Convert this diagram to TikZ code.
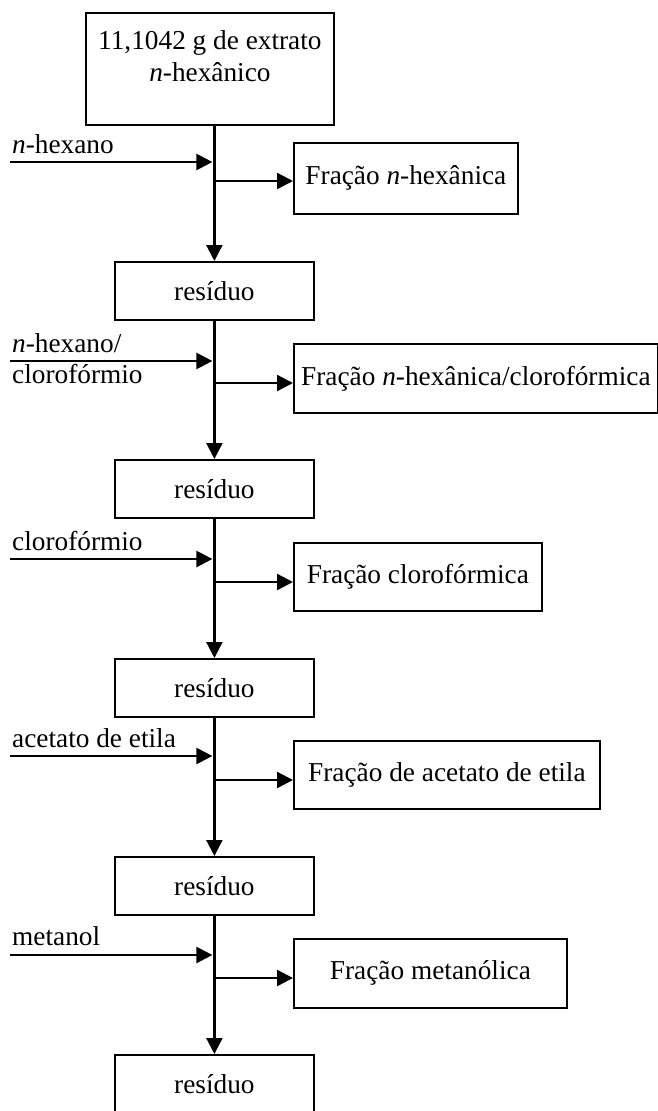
\documentclass[tikz,border=0pt]{standalone}
\usepackage{fontspec}
\setmainfont{Liberation Serif}
\usetikzlibrary{arrows.meta,calc}
\tikzset{fbox/.style={draw,line width=1.8pt,anchor=north west},
         flow/.style={line width=2.3pt,-{Triangle[length=16pt,width=16pt]}},
         lbl/.style={anchor=base west}}

\begin{document}
\begin{tikzpicture}[x=1pt,y=-1pt,every node/.style={inner sep=0pt,font=\fontsize{27.3}{32}\selectfont}]
  \useasboundingbox (0,0) rectangle (658,1111);
  \clip (0,0) rectangle (658,1111);

  \node [fbox,minimum width=248pt,minimum height=112pt,align=center] (top) at (85,12)
        {11,1042 g de extrato\\\textit{n}-hex\^anico\\[-6pt]};

  \node [fbox,minimum width=199pt,minimum height=58pt] (res1) at (114,261)  {res\'iduo};
  \node [fbox,minimum width=199pt,minimum height=58pt] (res2) at (114,459)  {res\'iduo};
  \node [fbox,minimum width=199pt,minimum height=58pt] (res3) at (114,658)  {res\'iduo};
  \node [fbox,minimum width=199pt,minimum height=58pt] (res4) at (114,856)  {res\'iduo};
  \node [fbox,minimum width=199pt,minimum height=58pt] (res5) at (114,1054) {res\'iduo};

  \node [fbox,minimum width=224pt,minimum height=71pt] (frac1) at (293,142) {Fra\c{c}\~ao \textit{n}-hex\^anica};
  \node [fbox,minimum width=364pt,minimum height=69pt] (frac2) at (293,343) {Fra\c{c}\~ao \textit{n}-hex\^anica/clorof\'ormica};
  \node [fbox,minimum width=248pt,minimum height=68pt] (frac3) at (293,542) {Fra\c{c}\~ao clorof\'ormica};
  \node [fbox,minimum width=306pt,minimum height=68pt] (frac4) at (293,740) {Fra\c{c}\~ao de acetato de etila};
  \node [fbox,minimum width=273pt,minimum height=69pt] (frac5) at (293,938) {Fra\c{c}\~ao metan\'olica};

  \node [lbl] (hex)    at (12,153) {\textit{n}-hexano};
  \node [lbl] (hexcl)  at (12,352) {\textit{n}-hexano/};
  \node [lbl] (hexcl2) at (12,383) {clorof\'ormio};
  \node [lbl] (clor)   at (12,550) {clorof\'ormio};
  \node [lbl] (acet)   at (12,747) {acetato de etila};
  \node [lbl] (met)    at (12,945) {metanol};

  \coordinate (a1) at (10,162);
  \coordinate (a2) at (10,361);
  \coordinate (a3) at (10,559);
  \coordinate (a4) at (10,756);
  \coordinate (a5) at (10,955);
  \coordinate (b1) at (213.5,181);
  \coordinate (b2) at (213.5,383);
  \coordinate (b3) at (213.5,582);
  \coordinate (b4) at (213.5,780);
  \coordinate (b5) at (213.5,978);

  \draw [flow] (res1.north |- top.south) -- (res1.north);
  \draw [flow] (res1.south) -- (res2.north);
  \draw [flow] (res2.south) -- (res3.north);
  \draw [flow] (res3.south) -- (res4.north);
  \draw [flow] (res4.south) -- (res5.north);

  \draw [flow,shorten >=2pt] (a1) -- (a1 -| res1.north);
  \draw [flow,shorten >=2pt] (a2) -- (a2 -| res1.north);
  \draw [flow,shorten >=2pt] (a3) -- (a3 -| res1.north);
  \draw [flow,shorten >=2pt] (a4) -- (a4 -| res1.north);
  \draw [flow,shorten >=2pt] (a5) -- (a5 -| res1.north);

  \draw [flow] (b1) -- (b1 -| frac1.west);
  \draw [flow] (b2) -- (b2 -| frac2.west);
  \draw [flow] (b3) -- (b3 -| frac3.west);
  \draw [flow] (b4) -- (b4 -| frac4.west);
  \draw [flow] (b5) -- (b5 -| frac5.west);
\end{tikzpicture}
\end{document}
